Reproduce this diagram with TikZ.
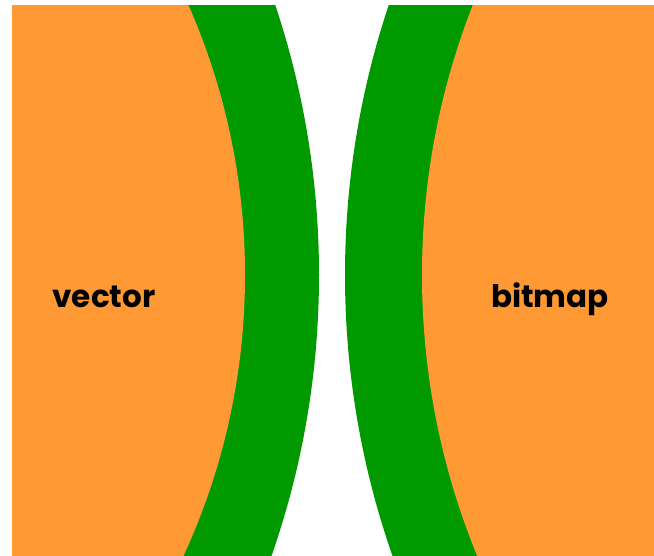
\documentclass[tikz,border=0pt]{standalone}
\usepackage{fontspec}
\setmainfont{Poppins}[BoldFont={* Bold}]
\definecolor{orng}{RGB}{255,153,51}
\definecolor{grn}{RGB}{0,153,0}
\tikzset{lbl/.style={anchor=base,inner sep=0pt,font=\fontsize{31}{31}\selectfont\bfseries,text=black}}
\begin{document}
\begin{tikzpicture}[x=1pt,y=-1pt]
\useasboundingbox (0,0) rectangle (654,555);
\fill[white] (0,0) rectangle (654,555);
\begin{scope}
\clip (12,5) rectangle (654,555);
\fill[grn] (-531,275) circle[radius=850];
\fill[orng] (-425,275) circle[radius=670];
\fill[grn] (1195,275) circle[radius=850];
\fill[orng] (1162,275) circle[radius=740];
\end{scope}
\node[lbl] (vec) at (104,307) {vector};
\node[lbl] (bmp) at (550,307) {bitmap};
\end{tikzpicture}
\end{document}
